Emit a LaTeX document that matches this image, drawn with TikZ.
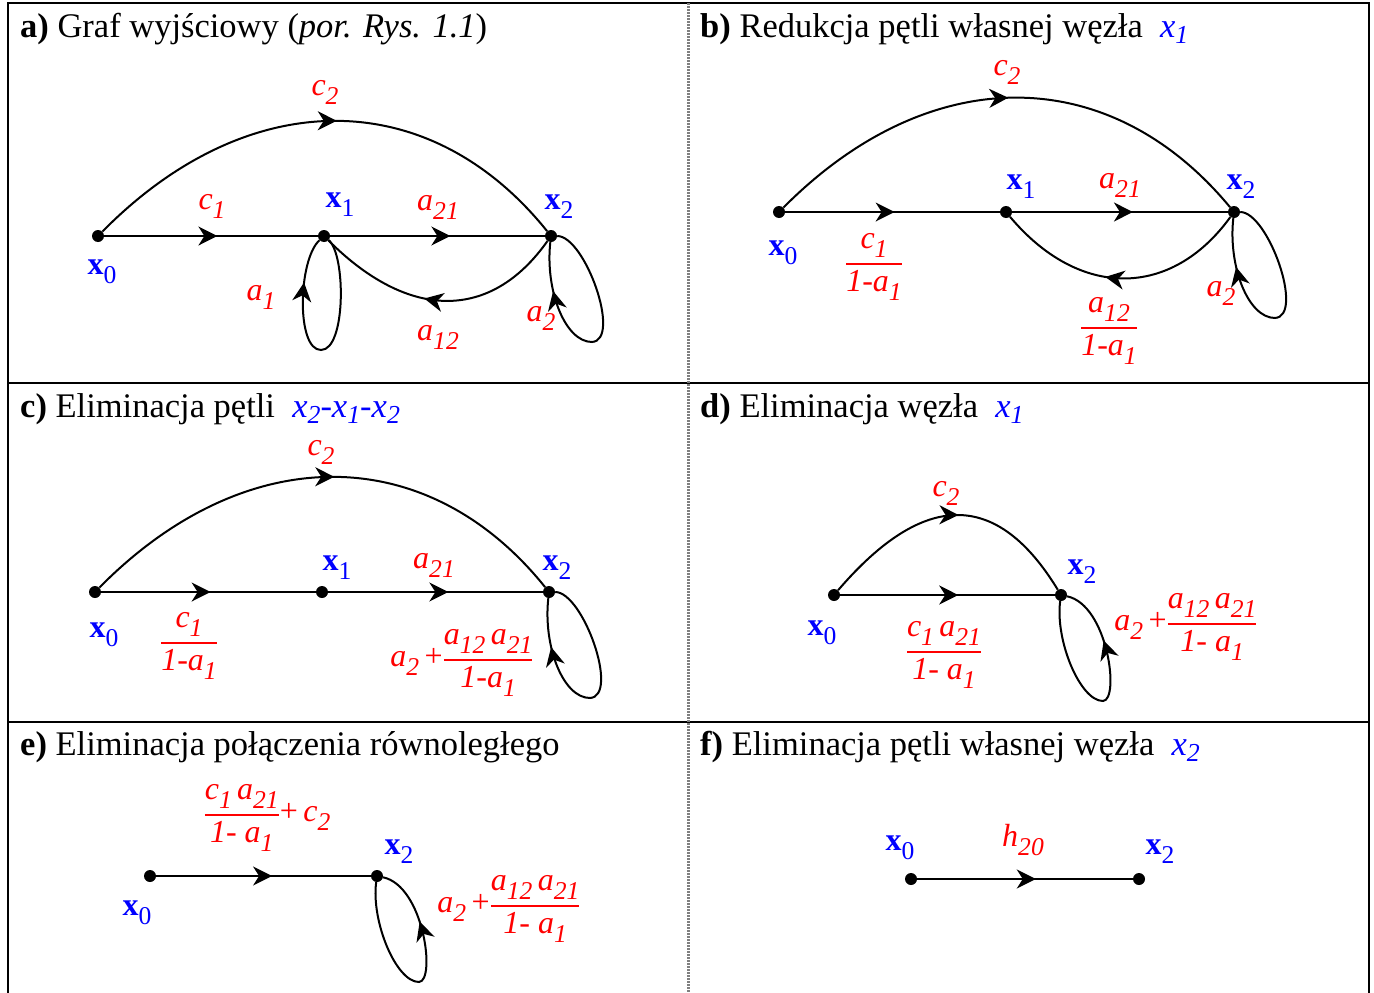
\documentclass[tikz,border=0pt]{standalone}
\usepackage{fontspec}
\setmainfont{Liberation Serif}
\usepackage{amsmath}
\usepackage{graphicx}
\usetikzlibrary{arrows.meta,decorations.markings}

\newcommand\sbs[1]{\raisebox{-0.28em}{\scalebox{0.8}{#1}}}
\newcommand\tsbs[1]{\raisebox{-0.2em}{\scalebox{0.75}{#1}}}
\newcommand\rv[2]{\textit{#1}\sbs{\textit{#2}}}
\newcommand\nv[1]{\textbf{x}\sbs{#1}}
\newcommand\fr[2]{$\genfrac{}{}{1.8pt}{0}{\text{#1}}{\text{#2}}$}
\newcommand\bx[1]{\textcolor{blue}{\textit{x}\tsbs{\textit{#1}}}}
\newcommand\loopA[2]{\draw[edge,marr=#2] (#1) .. controls +(34,0) and +(30,-2) .. ++(41,106) .. controls +(-27,0) and +(-6,54) .. (#1);}
\newcommand\loopB[2]{\draw[edge,marr=#2] (#1) .. controls +(-6,45) and +(-23,0) .. ++(42,106) .. controls +(17,-1) and +(47,10) .. (#1);}

\begin{document}
\begin{tikzpicture}[x=1pt,y=-1pt,
  dot/.style={circle,fill=black,inner sep=0pt,minimum size=12pt},
  edge/.style={line width=2pt},
  marr/.style={postaction={decorate},decoration={markings,mark=at position #1 with {\arrow{Stealth[length=19pt,width=19pt,inset=6pt]}}}},
  lbl/.style={text=red,inner sep=0pt,font=\fontsize{32}{38}\selectfont},
  nlbl/.style={text=blue,inner sep=0pt,font=\fontsize{32}{38}\selectfont},
  ttl/.style={anchor=base west,inner sep=0pt,font=\fontsize{34.5}{40}\selectfont},
  frame/.style={line width=2.5pt},
  middiv/.style={line width=3pt,draw=gray,dash pattern=on 1.5pt off 1.5pt}
]
\useasboundingbox (0,0) rectangle (1374,993);
\fill[white] (0,0) rectangle (1374,993);

% frame
\draw[frame] (8,993) -- (8,3) -- (1369,3) -- (1369,993);
\draw[frame] (8,383) -- (1369,383);
\draw[frame] (8,722) -- (1369,722);
\draw[middiv] (688,3) -- (688,993);

% titles
\node[ttl] (ta) at (20,37) {\textbf{a)} Graf wyjściowy (\textit{por. Rys. 1.1})};
\node[ttl] (tb) at (700,37) {\textbf{b)} Redukcja pętli własnej węzła \ \bx{1}};
\node[ttl] (tc) at (20,417) {\textbf{c)} Eliminacja pętli \ \textcolor{blue}{\textit{x}\tsbs{\textit{2}}-\textit{x}\tsbs{\textit{1}}-\textit{x}\tsbs{\textit{2}}}};
\node[ttl] (td) at (700,417) {\textbf{d)} Eliminacja węzła \ \bx{1}};
\node[ttl] (te) at (20,755) {\textbf{e)} Eliminacja połączenia równoległego};
\node[ttl] (tf) at (700,755) {\textbf{f)} Eliminacja pętli własnej węzła \ \bx{2}};

% ---------- panel a
\node[dot] (A0) at (98,236) {};
\node[dot] (A1) at (324,236) {};
\node[dot] (A2) at (551,236) {};
\draw[edge,marr=0.53] (A0) -- (A1);
\draw[edge,marr=0.56] (A1) -- (A2);
\draw[edge,marr=0.52] (A0) .. controls +(150,-152) and +(-122,-152) .. (A2);
\draw[edge,marr=0.56] (A2) .. controls +(-60,85) and +(85,85) .. (A1);
\draw[edge,marr=0.81] (A1) .. controls +(22,19) and +(25,0) .. ++(-3,114) .. controls +(-25,0) and +(-26,24) .. (A1);
\loopA{A2}{0.8}
\node[lbl] (la1) at (325,92) {\rv{c}{2}};
\node[lbl] (la2) at (212,206) {\rv{c}{1}};
\node[nlbl] (la3) at (340,205) {\nv{1}};
\node[lbl] (la4) at (438,207) {\rv{a}{21}};
\node[nlbl] (la5) at (559,207) {\nv{2}};
\node[nlbl] (la6) at (102,272) {\nv{0}};
\node[lbl] (la7) at (261,297) {\rv{a}{1}};
\node[lbl] (la8) at (438,337) {\rv{a}{12}};
\node[lbl] (la9) at (541,318) {\rv{a}{2}};

% ---------- panel b
\node[dot] (B0) at (779,212) {};
\node[dot] (B1) at (1006,212) {};
\node[dot] (B2) at (1234,212) {};
\draw[edge,marr=0.51] (B0) -- (B1);
\draw[edge,marr=0.56] (B1) -- (B2);
\draw[edge,marr=0.5] (B0) .. controls +(150,-151) and +(-125,-151) .. (B2);
\draw[edge,marr=0.56] (B2) .. controls +(-63,87) and +(73,87) .. (B1);
\loopA{B2}{0.8}
\node[lbl] (lb1) at (1007,72) {\rv{c}{2}};
\node[nlbl] (lb2) at (1021,187) {\nv{1}};
\node[lbl] (lb3) at (1120,185) {\rv{a}{21}};
\node[nlbl] (lb4) at (1241,187) {\nv{2}};
\node[nlbl] (lb5) at (783,253) {\nv{0}};
\node[lbl] (lb6) at (874,267) {\fr{\rv{c}{1}}{\textit{1-}\rv{a}{1}}};
\node[lbl] (lb7) at (1221,293) {\rv{a}{2}};
\node[lbl] (lb8) at (1109,331) {\fr{\rv{a}{12}}{\textit{1-}\rv{a}{1}}};

% ---------- panel c
\node[dot] (C0) at (95,592) {};
\node[dot] (C1) at (322,592) {};
\node[dot] (C2) at (549,592) {};
\draw[edge,marr=0.51] (C0) -- (C1);
\draw[edge,marr=0.56] (C1) -- (C2);
\draw[edge,marr=0.52] (C0) .. controls +(150,-152) and +(-122,-152) .. (C2);
\loopA{C2}{0.8}
\node[lbl] (lc1) at (321,452) {\rv{c}{2}};
\node[nlbl] (lc2) at (337,568) {\nv{1}};
\node[lbl] (lc3) at (434,565) {\rv{a}{21}};
\node[nlbl] (lc4) at (557,568) {\nv{2}};
\node[nlbl] (lc5) at (104,635) {\nv{0}};
\node[lbl] (lc6) at (189,646) {\fr{\rv{c}{1}}{\textit{1-}\rv{a}{1}}};
\node[lbl] (lc7) at (462,663) {\rv{a}{2}\,+\fr{\rv{a}{12}\,\rv{a}{21}}{\textit{1-}\rv{a}{1}}};

% ---------- panel d
\node[dot] (D0) at (834,595) {};
\node[dot] (D2) at (1061,595) {};
\draw[edge,marr=0.55] (D0) -- (D2);
\draw[edge,marr=0.53] (D0) .. controls +(90,-105) and +(-64,-105) .. (D2);
\loopB{D2}{0.75}
\node[lbl] (ld1) at (946,493) {\rv{c}{2}};
\node[nlbl] (ld2) at (1082,572) {\nv{2}};
\node[nlbl] (ld3) at (822,633) {\nv{0}};
\node[lbl] (ld4) at (944,655) {\fr{\rv{c}{1}\,\rv{a}{21}}{\textit{1- }\rv{a}{1}}};
\node[lbl] (ld5) at (1186,627) {\rv{a}{2}\,+\fr{\rv{a}{12}\,\rv{a}{21}}{\textit{1- }\rv{a}{1}}};

% ---------- panel e
\node[dot] (E0) at (150,876) {};
\node[dot] (E2) at (377,876) {};
\draw[edge,marr=0.54] (E0) -- (E2);
\loopB{E2}{0.75}
\node[lbl] (le1) at (267,818) {\fr{\rv{c}{1}\,\rv{a}{21}}{\textit{1- }\rv{a}{1}}+\,\rv{c}{2}};
\node[nlbl] (le2) at (399,852) {\nv{2}};
\node[nlbl] (le3) at (137,913) {\nv{0}};
\node[lbl] (le4) at (509,909) {\rv{a}{2}\,+\fr{\rv{a}{12}\,\rv{a}{21}}{\textit{1- }\rv{a}{1}}};

% ---------- panel f
\node[dot] (F0) at (911,879) {};
\node[dot] (F2) at (1139,879) {};
\draw[edge,marr=0.55] (F0) -- (F2);
\node[lbl] (lf1) at (1023,840) {\rv{h}{20}};
\node[nlbl] (lf2) at (900,848) {\nv{0}};
\node[nlbl] (lf3) at (1160,852) {\nv{2}};
\end{tikzpicture}
\end{document}
